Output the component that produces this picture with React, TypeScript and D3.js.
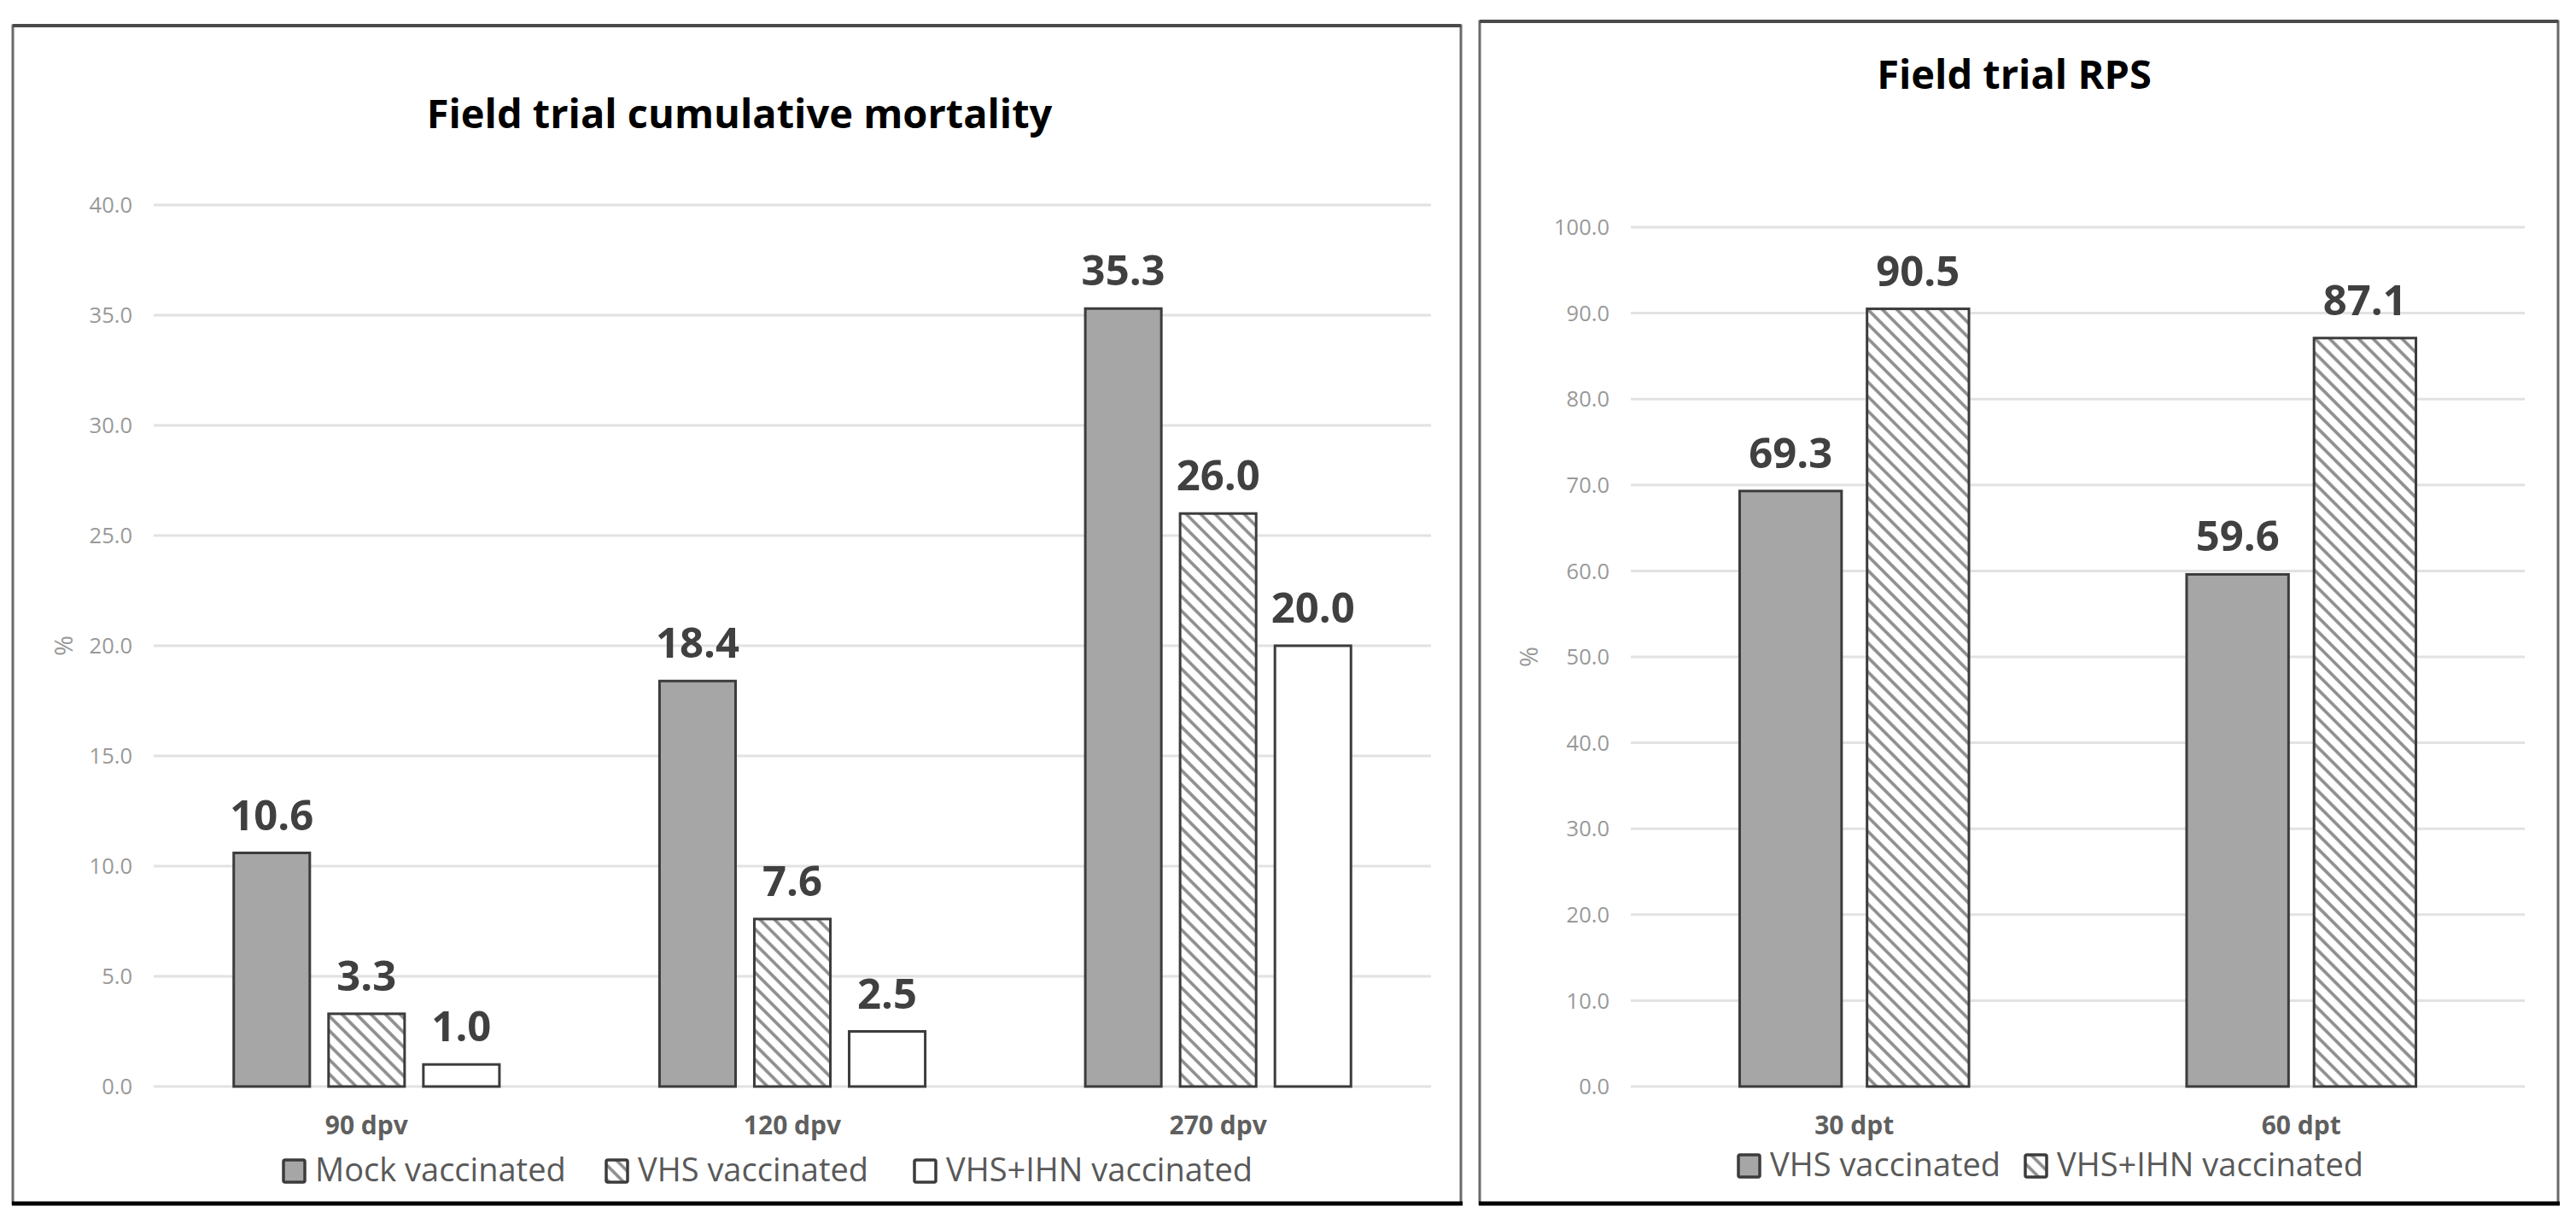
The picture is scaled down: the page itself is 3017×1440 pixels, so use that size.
import * as d3 from "d3";

// ---- data ----
const mortalityCategories = ["90 dpv", "120 dpv", "270 dpv"];
const mortalitySeries = ["Mock vaccinated", "VHS vaccinated", "VHS+IHN vaccinated"];
const mockValues = [10.6, 18.4, 35.3];
const vhsValues = [3.3, 7.6, 26.0];
const vhsIhnValues = [1.0, 2.5, 20.0];
const mortalityTicks = [0, 5, 10, 15, 20, 25, 30, 35, 40];

const rpsCategories = ["30 dpt", "60 dpt"];
const rpsSeries = ["VHS vaccinated", "VHS+IHN vaccinated"];
const rpsVhs = [69.3, 59.6];
const rpsVhsIhn = [90.5, 87.1];
const rpsTicks = [0, 10, 20, 30, 40, 50, 60, 70, 80, 90, 100];

const W = 3017, H = 1440;
const FONT = "'Open Sans', 'Noto Sans', sans-serif";
const GREY = "#a6a6a6";
const HATCH = "url(#hatch)";

type PanelProps = {
  title: string;
  titleX: number;
  titleY: number;
  frame: { x0: number; y0: number; x1: number; y1: number };
  plot: { x0: number; x1: number; bottom: number; top: number };
  yMax: number;
  ticks: number[];
  categories: string[];
  series: string[];
  values: number[][]; // values[series][category]
  fills: string[];
  groupPad: number;
  barPad: number;
  tickX: number;
  pctX: number;
  catLabelY: number;
  legendY: number;
  swatchX: number[];
};

function Panel(p: PanelProps) {
  const y = d3.scaleLinear().domain([0, p.yMax]).range([p.plot.bottom, p.plot.top]);
  const x0 = d3.scaleBand<string>()
    .domain(p.categories)
    .range([p.plot.x0, p.plot.x1])
    .paddingInner(p.groupPad)
    .paddingOuter(p.groupPad / 2);
  const x1 = d3.scaleBand<string>()
    .domain(p.series)
    .range([0, x0.bandwidth()])
    .paddingInner(p.barPad);
  const midY = (p.plot.bottom + p.plot.top) / 2;
  const f = p.frame;

  return (
    <g>
      {/* frame */}
      <rect x={f.x0} y={f.y0} width={f.x1 - f.x0} height={f.y1 - f.y0} fill="#fff" stroke="#6a6a6a" strokeWidth={3} />
      <line x1={f.x0} x2={f.x1} y1={f.y0} y2={f.y0} stroke="#4a4a4a" strokeWidth={4} />
      <line x1={f.x0 - 1} x2={f.x1 + 2} y1={f.y1} y2={f.y1} stroke="#000" strokeWidth={5} />

      <text x={p.titleX} y={p.titleY} textAnchor="middle" fontFamily={FONT} fontWeight={700} fontSize={47} fill="#000">
        {p.title}
      </text>

      {/* gridlines + tick labels */}
      {p.ticks.map(t => (
        <g key={t}>
          <line x1={p.plot.x0} x2={p.plot.x1} y1={y(t)} y2={y(t)} stroke="#e2e2e2" strokeWidth={3} />
          <text x={p.tickX} y={y(t)} dy="0.36em" textAnchor="end" fontFamily={FONT} fontSize={25.5} fill="#999">
            {t.toFixed(1)}
          </text>
        </g>
      ))}

      <text transform={`translate(${p.pctX},${midY}) rotate(-90)`} dy="0.36em" textAnchor="middle" fontFamily={FONT} fontSize={29} fill="#999">
        %
      </text>

      {/* bars */}
      {p.categories.map((c, ci) => (
        <g key={c} transform={`translate(${x0(c)},0)`}>
          {p.series.map((s, si) => {
            const v = p.values[si][ci];
            const bx = x1(s) ?? 0;
            return (
              <g key={s}>
                <rect x={bx} y={y(v)} width={x1.bandwidth()} height={y(0) - y(v)} fill={p.fills[si]} stroke="#3c3c3c" strokeWidth={3} />
                <text x={bx + x1.bandwidth() / 2} y={y(v) - 27} textAnchor="middle" fontFamily={FONT} fontWeight={700} fontSize={49} fill="#404040">
                  {v.toFixed(1)}
                </text>
              </g>
            );
          })}
          <text x={x0.bandwidth() / 2} y={p.catLabelY} textAnchor="middle" fontFamily={FONT} fontWeight={700} fontSize={30} fill="#5f5f5f">
            {c}
          </text>
        </g>
      ))}

      {/* legend */}
      {p.series.map((s, si) => (
        <g key={s}>
          <rect x={p.swatchX[si]} y={p.legendY - 25} width={25} height={26} fill={p.fills[si]} stroke="#3c3c3c" strokeWidth={3.5} rx={2} />
          <text x={p.swatchX[si] + 37} y={p.legendY} fontFamily={FONT} fontSize={38} fill="#595959">
            {s}
          </text>
        </g>
      ))}
    </g>
  );
}

export default function App() {
  return (
    <div style={{ position: "absolute", left: 0, top: 0 }}>
      <svg width={W} height={H} viewBox={`0 0 ${W} ${H}`} style={{ display: "block", background: "#fff" }}>
        <defs>
          <pattern id="hatch" patternUnits="userSpaceOnUse" width={12} height={12} patternTransform="rotate(-45)">
            <rect width={12} height={12} fill="#fff" />
            <line x1={6} x2={6} y1={0} y2={12} stroke="#8c8c8c" strokeWidth={3.6} />
          </pattern>
        </defs>

        <Panel
          title="Field trial cumulative mortality"
          titleX={866}
          titleY={150}
          frame={{ x0: 15, y0: 30, x1: 1711, y1: 1409 }}
          plot={{ x0: 180, x1: 1676, bottom: 1272, top: 240 }}
          yMax={40}
          ticks={mortalityTicks}
          categories={mortalityCategories}
          series={mortalitySeries}
          values={[mockValues, vhsValues, vhsIhnValues]}
          fills={[GREY, HATCH, "#fff"]}
          groupPad={0.376}
          barPad={0.198}
          tickX={155}
          pctX={75}
          catLabelY={1328}
          legendY={1383}
          swatchX={[332, 710, 1071]}
        />

        <Panel
          title="Field trial RPS"
          titleX={2359}
          titleY={104}
          frame={{ x0: 1733, y0: 25, x1: 2996, y1: 1409 }}
          plot={{ x0: 1910, x1: 2957, bottom: 1272, top: 266 }}
          yMax={100}
          ticks={rpsTicks}
          categories={rpsCategories}
          series={rpsSeries}
          values={[rpsVhs, rpsVhsIhn]}
          fills={[GREY, HATCH]}
          groupPad={0.487}
          barPad={0.2}
          tickX={1885}
          pctX={1791}
          catLabelY={1328}
          legendY={1377}
          swatchX={[2036, 2372]}
        />
      </svg>
    </div>
  );
}
